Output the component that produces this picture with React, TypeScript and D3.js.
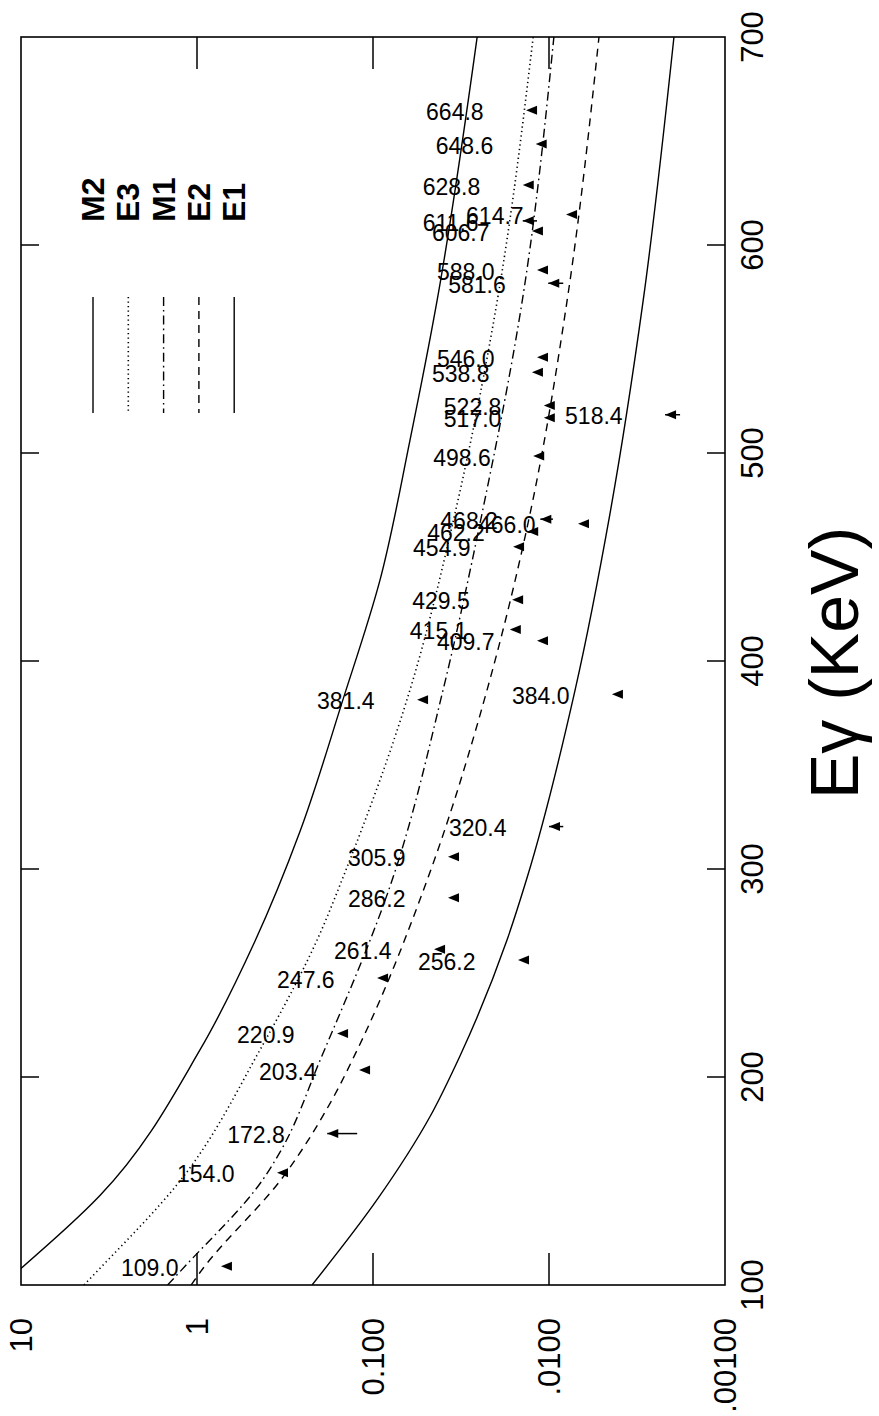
import React, { useEffect, useRef } from 'react'
import * as d3 from 'd3'

// axis ticks
const energyTicks = [100, 200, 300, 400, 500, 600, 700]
const alphaTicks = [10, 1, 0.1, 0.01, 0.001]
const alphaTickLabels = ['10', '1', '0.100', '.0100', '.00100']

// theoretical curves, [E (keV), alpha]
const m2Curve = [[100, 12.9], [108, 10.0], [143, 3.56], [213, 0.962], [265, 0.47], [318, 0.26], [380, 0.15], [439, 0.0912], [506, 0.0617], [573, 0.0433], [700, 0.0256]]
const e3Curve = [[100, 4.39], [108, 3.56], [150, 1.25], [213, 0.439], [269, 0.2], [296, 0.148], [386, 0.0617], [471, 0.0342], [573, 0.0197], [700, 0.0123]]
const m1Curve = [[100, 1.47], [109, 1.17], [151, 0.42], [164, 0.337], [208, 0.2], [296, 0.0769], [386, 0.04], [471, 0.024], [573, 0.0142], [700, 0.00938]]
const e2Curve = [[100, 1.08], [106, 0.962], [152, 0.324], [189, 0.171], [213, 0.123], [296, 0.0486], [386, 0.0225], [471, 0.0128], [573, 0.0079], [700, 0.0052]]
const e1Curve = [[100, 0.222], [141, 0.0948], [181, 0.0474], [210, 0.0321], [266, 0.0173], [296, 0.0133], [386, 0.00711], [471, 0.0045], [573, 0.00292], [700, 0.00195]]

const legendNames = ['M2', 'E3', 'M1', 'E2', 'E1']

// measured transitions
const gammaEnergies = [664.8, 648.6, 628.8, 614.7, 611.6, 606.7, 588.0, 581.6, 546.0, 538.8, 522.8, 517.0, 518.4, 498.6, 468.2, 466.0, 462.2, 454.9, 429.5, 415.1, 409.7, 381.4, 384.0, 320.4, 305.9, 286.2, 261.4, 256.2, 247.6, 220.9, 203.4, 172.8, 154.0, 109.0]
const gammaAlphas = [0.0135, 0.0119, 0.0141, 0.008, 0.0141, 0.0125, 0.0117, 0.0101, 0.0117, 0.0125, 0.0107, 0.0107, 0.00219, 0.0123, 0.0112, 0.00684, 0.0133, 0.016, 0.0162, 0.0167, 0.0117, 0.0562, 0.00439, 0.01, 0.0375, 0.0375, 0.045, 0.015, 0.0948, 0.16, 0.12, 0.182, 0.351, 0.731]
// lower end of the error bar (null = none drawn)
const gammaErrLow = [null, null, null, null, 0.0117, null, null, 0.0083, null, null, null, null, 0.0018, null, 0.0095, null, null, null, null, null, null, null, null, 0.0083, null, null, null, null, null, null, null, 0.123, null, null]

const App = () => {
    const ref = useRef<SVGSVGElement>(null)

    useEffect(() => {
        draw()
    })

    const draw = () => {
        const width = 879
        const height = 1416
        const left = 21
        const right = 725
        const top = 37
        const bottom = 1285
        const font = 'Liberation Sans, Arial, Helvetica, sans-serif'

        const svg = d3.select(ref.current)
        svg.selectAll('*').remove()
        svg.attr('width', width).attr('height', height)

        // log alpha runs left to right, energy bottom to top (page turned)
        const x = d3.scaleLog().domain([10, 0.001]).range([left, right])
        const y = d3.scaleLinear().domain([100, 700]).range([bottom, top])

        svg.append('rect').attr('width', width).attr('height', height).attr('fill', '#fff')

        svg.append('clipPath').attr('id', 'plotArea')
            .append('rect').attr('x', left).attr('y', top)
            .attr('width', right - left).attr('height', bottom - top)

        // curves
        const curves = [m2Curve, e3Curve, m1Curve, e2Curve, e1Curve]
        const dashes = [null, '1.3,3.2', '9,4,1.6,4', '8,6', null]
        const line = d3.line<number[]>()
            .x((d) => x(d[1]))
            .y((d) => y(d[0]))
            .curve(d3.curveMonotoneY)

        const g = svg.append('g').attr('clip-path', 'url(#plotArea)')
        curves.forEach((c, i) => {
            g.append('path')
                .attr('d', line(c) || '')
                .attr('fill', 'none')
                .attr('stroke', '#000')
                .attr('stroke-width', i === 1 ? 1.6 : 1.4)
                .attr('stroke-dasharray', dashes[i])
        })

        // frame
        svg.append('rect')
            .attr('x', left).attr('y', top)
            .attr('width', right - left).attr('height', bottom - top)
            .attr('fill', 'none').attr('stroke', '#000').attr('stroke-width', 1.6)

        // energy ticks on both sides
        energyTicks.slice(1, -1).forEach((e) => {
            svg.append('line').attr('x1', left).attr('x2', left + 18)
                .attr('y1', y(e)).attr('y2', y(e)).attr('stroke', '#000').attr('stroke-width', 1.5)
            svg.append('line').attr('x1', right - 18).attr('x2', right)
                .attr('y1', y(e)).attr('y2', y(e)).attr('stroke', '#000').attr('stroke-width', 1.5)
        })
        // alpha ticks on top and bottom
        alphaTicks.slice(1, -1).forEach((a) => {
            svg.append('line').attr('x1', x(a)).attr('x2', x(a))
                .attr('y1', top).attr('y2', top + 32).attr('stroke', '#000').attr('stroke-width', 1.5)
            svg.append('line').attr('x1', x(a)).attr('x2', x(a))
                .attr('y1', bottom - 32).attr('y2', bottom).attr('stroke', '#000').attr('stroke-width', 1.5)
        })

        // tick labels, rotated like the page
        energyTicks.forEach((e) => {
            svg.append('text')
                .attr('transform', `translate(${right + 38},${y(e)}) rotate(-90)`)
                .attr('text-anchor', 'middle')
                .attr('font-family', font).attr('font-size', 31)
                .text(String(e))
        })
        alphaTicks.forEach((a, i) => {
            svg.append('text')
                .attr('transform', `translate(${x(a) + 11},${bottom + 33}) rotate(-90)`)
                .attr('text-anchor', 'end')
                .attr('font-family', font).attr('font-size', 31)
                .text(alphaTickLabels[i])
        })

        // axis title
        svg.append('text')
            .attr('transform', `translate(858,663) rotate(-90)`)
            .attr('text-anchor', 'middle')
            .attr('font-family', font).attr('font-size', 68)
            .text('Eγ (KeV)')

        // legend
        legendNames.forEach((name, i) => {
            const lx = 93 + i * 35.3
            svg.append('line').attr('x1', lx).attr('x2', lx)
                .attr('y1', 297).attr('y2', 413)
                .attr('stroke', '#000').attr('stroke-width', i === 1 ? 1.6 : 1.4)
                .attr('stroke-dasharray', dashes[i])
            svg.append('text')
                .attr('transform', `translate(${lx + 11},222) rotate(-90)`)
                .attr('text-anchor', 'start')
                .attr('font-family', font).attr('font-size', 32).attr('font-weight', 'bold')
                .text(name)
        })

        // measured points: left-pointing triangles with labels
        gammaEnergies.forEach((e, i) => {
            const px = x(gammaAlphas[i])
            const py = y(e)
            const err = gammaErrLow[i]
            if (err !== null) {
                svg.append('line').attr('x1', px).attr('x2', x(err))
                    .attr('y1', py).attr('y2', py).attr('stroke', '#000').attr('stroke-width', 1.5)
            }
            svg.append('path')
                .attr('d', `M${px},${py} L${px + 11},${py - 4.5} L${px + 11},${py + 4.5} Z`)
                .attr('fill', '#000')
            svg.append('text')
                .attr('x', px - 100).attr('y', py)
                .attr('dy', '0.42em')
                .attr('font-family', font).attr('font-size', 23)
                .text(e.toFixed(1))
        })
    }

    return <svg ref={ref} style={{ position: 'absolute', left: 0, top: 0 }}></svg>
}

export default App
